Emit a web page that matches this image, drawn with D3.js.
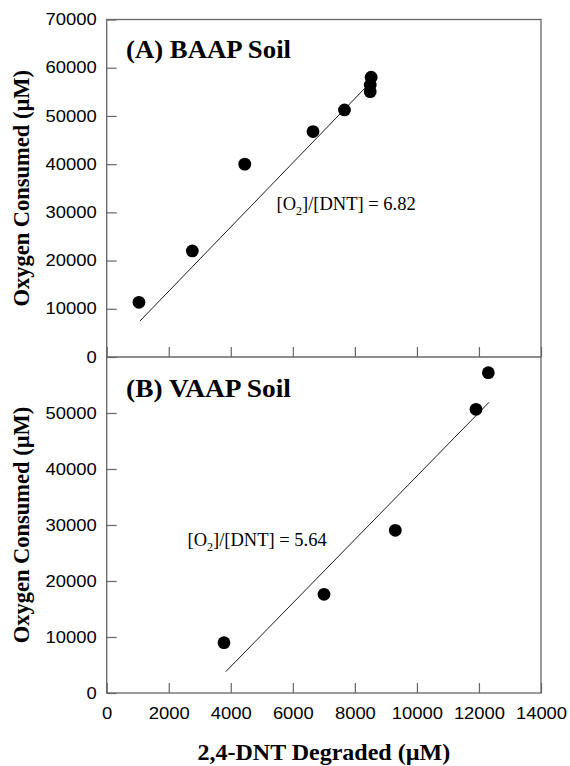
<!DOCTYPE html>
<html><head><meta charset="utf-8">
<script src="https://cdn.jsdelivr.net/npm/d3@7"></script>
<style>body{margin:0;background:#fff}</style>
</head><body>
<svg id="c" width="570" height="766"></svg>
<script>
// ---- data ----
const xTicks = [0, 2000, 4000, 6000, 8000, 10000, 12000, 14000];
const yTicksA = [0, 10000, 20000, 30000, 40000, 50000, 60000, 70000];
const yTicksB = [0, 10000, 20000, 30000, 40000, 50000];
const dntA = [1040, 2760, 4450, 6650, 7665, 8495, 8495, 8525];
const o2A  = [11350, 22000, 40000, 46750, 51240, 55040, 56430, 58030];
const fitAx = [1073, 8480];
const fitAy = [7470, 56800];
const dntB = [3781, 7005, 9304, 11905, 12302];
const o2B  = [8980, 17625, 29050, 50660, 57200];
const fitBx = [3836, 12324];
const fitBy = [3800, 51910];
const panelTitles = ["(A) BAAP Soil", "(B) VAAP Soil"];
const ratios = ["6.82", "5.64"];
const xTitle = "2,4-DNT Degraded (\u00B5M)";
const yTitle = "Oxygen Consumed (\u00B5M)";

// ---- layout ----
const L = 106.7, R = 541, T = 19.5, M = 357, B = 693;
const svg = d3.select("#c");
const axisCol = "#666";

const x = d3.scaleLinear().domain([0, 14000]).range([L, R]);
const yA = d3.scaleLinear().domain([0, 70000]).range([M, T]);
const yB = d3.scaleLinear().domain([0, 60000]).range([B, M]);

function stretch(sel, k) {
  sel.each(function () {
    const len = this.getComputedTextLength();
    d3.select(this).attr("textLength", len * k).attr("lengthAdjust", "spacingAndGlyphs");
  });
}

function styleAxis(g) {
  g.select(".domain").remove();
  g.selectAll(".tick line").attr("stroke", axisCol).attr("stroke-width", 1.2);
  g.selectAll(".tick text").attr("fill", "#000")
    .style("font-family", "'Liberation Sans', Arial, sans-serif").style("font-size", "16px");
}

// y axes
const gA = svg.append("g").attr("transform", `translate(${L},0)`)
  .call(d3.axisLeft(yA).tickValues(yTicksA).tickSize(-10).tickPadding(10).tickFormat(d3.format("d")));
styleAxis(gA);
const gB = svg.append("g").attr("transform", `translate(${L},0)`)
  .call(d3.axisLeft(yB).tickValues(yTicksB).tickSize(-10).tickPadding(10).tickFormat(d3.format("d")));
styleAxis(gB);

// x axes
const gX = svg.append("g").attr("transform", `translate(0,${B})`)
  .call(d3.axisBottom(x).tickValues(xTicks).tickSize(-10).tickPadding(15).tickFormat(d3.format("d")));
styleAxis(gX);
const gXA = svg.append("g").attr("transform", `translate(0,${M})`)
  .call(d3.axisBottom(x).tickValues(xTicks).tickSize(-10).tickFormat(""));
styleAxis(gXA);

[gA, gB, gX].forEach(g => stretch(g.selectAll(".tick text"), 1.15));

// frame
svg.append("rect").attr("x", L).attr("y", T).attr("width", R - L).attr("height", B - T)
  .attr("fill", "none").attr("stroke", axisCol).attr("stroke-width", 1.3);
svg.append("line").attr("x1", L).attr("x2", R).attr("y1", M).attr("y2", M)
  .attr("stroke", axisCol).attr("stroke-width", 1.3);

// fits
function fitLine(xs, ys, y) {
  svg.append("line")
    .attr("x1", x(xs[0])).attr("y1", y(ys[0]))
    .attr("x2", x(xs[1])).attr("y2", y(ys[1]))
    .attr("stroke", "#000").attr("stroke-width", 0.9);
}
fitLine(fitAx, fitAy, yA);
fitLine(fitBx, fitBy, yB);

// points
function dots(xs, ys, y) {
  svg.append("g").selectAll("circle").data(xs).join("circle")
    .attr("cx", d => x(d)).attr("cy", (d, i) => y(ys[i])).attr("r", 6.4).attr("fill", "#000");
}
dots(dntA, o2A, yA);
dots(dntB, o2B, yB);

// panel titles
const serif = "'Liberation Serif', 'Times New Roman', serif";
[[panelTitles[0], 57.5], [panelTitles[1], 396.5]].forEach(([t, ty]) => {
  svg.append("text").attr("x", 126).attr("y", ty).text(t)
    .style("font-family", serif).style("font-weight", "bold").style("font-size", "24.5px")
    .attr("textLength", 165).attr("lengthAdjust", "spacingAndGlyphs");
});

// ratio annotations
function ratio(tx, ty, val) {
  const t = svg.append("text").attr("x", tx).attr("y", ty)
    .style("font-family", serif).style("font-size", "18.5px");
  t.append("tspan").text("[O");
  t.append("tspan").text("2").attr("dy", 5).style("font-size", "12px");
  t.append("tspan").text("]/[DNT] = " + val).attr("dy", -5);
}
ratio(276.5, 209.5, ratios[0]);
ratio(187.5, 546, ratios[1]);

// axis titles
svg.append("text").attr("x", (L + R) / 2).attr("y", 760).attr("text-anchor", "middle")
  .text(xTitle).style("font-family", serif).style("font-weight", "bold").style("font-size", "24px");
[(T + M) / 2, (M + B) / 2].forEach(cy => {
  svg.append("text").attr("transform", `translate(29,${cy}) rotate(-90)`).attr("text-anchor", "middle")
    .text(yTitle).style("font-family", serif).style("font-weight", "bold").style("font-size", "22.5px");
});
</script>
</body></html>
